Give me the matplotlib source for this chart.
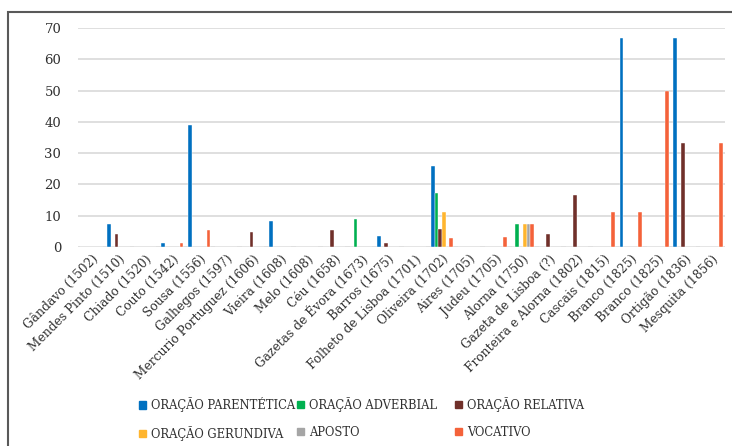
import matplotlib
matplotlib.use("Agg")
import matplotlib.pyplot as plt
import matplotlib.patches as mpatches
import numpy as np

plt.rcParams['font.family'] = ['DejaVu Serif']

categories = [
    "Gândavo (1502)", "Mendes Pinto (1510)", "Chiado (1520)", "Couto (1542)",
    "Sousa (1556)", "Galhegos (1597)", "Mercurio Portuguez (1606)", "Vieira (1608)",
    "Melo (1608)", "Céu (1658)", "Gazetas de Évora (1673)", "Barros (1675)",
    "Folheto de Lisboa (1701)", "Oliveira (1702)", "Aires (1705)", "Judeu (1705)",
    "Alorna (1750)", "Gazeta de Lisboa (?)", "Fronteira e Alorna (1802)",
    "Cascais (1815)", "Branco (1825)", "Branco (1825)", "Ortigão (1836)",
    "Mesquita (1856)",
]

series_names = ["ORAÇÃO PARENTÉTICA", "ORAÇÃO ADVERBIAL", "ORAÇÃO RELATIVA",
                "ORAÇÃO GERUNDIVA", "APOSTO", "VOCATIVO"]

parentetica = [0, 7.5, 0, 1.3, 38.9, 0, 0, 8.3, 0, 0, 0, 3.6,
               0, 25.9, 0, 0, 0, 0, 0, 0, 66.7, 0, 66.7, 0]
adverbial = [0, 0, 0, 0, 0, 0, 0, 0, 0, 0, 9.0, 0,
             0, 17.3, 0, 0, 7.5, 0, 0, 0, 0, 0, 0, 0]
relativa = [0, 4.0, 0, 0, 0, 0, 4.8, 0, 0, 5.5, 0, 1.3,
            0, 5.8, 0, 0, 0, 4.3, 16.7, 0, 0, 0, 33.3, 0]
gerundiva = [0, 0, 0, 0, 0, 0, 0, 0, 0, 0, 0, 0,
             0, 11.3, 0, 0, 7.5, 0, 0, 0, 0, 0, 0, 0]
aposto = [0, 0, 0, 0, 0, 0, 0, 0, 0, 0, 0, 0,
          0, 0, 0, 0, 7.5, 0, 0, 0, 0, 0, 0, 0]
vocativo = [0, 0, 0, 1.3, 5.5, 0, 0, 0, 0, 0, 0, 0,
            0, 2.9, 0, 3.2, 7.5, 0, 0, 11.1, 11.1, 50.0, 0, 33.3]

series = [parentetica, adverbial, relativa, gerundiva, aposto, vocativo]
colors = ["#0070C0", "#00B050", "#70302A", "#FFB52E", "#A5A5A5", "#F4623A"]

fig = plt.figure(figsize=(7.32, 4.46), dpi=100)
W, H = 732, 446
ax = fig.add_axes([78 / W, (H - 247) / H, (725 - 78) / W, (247 - 28) / H])

x = np.arange(len(categories))
bw = 0.137
for j, (vals, col, name) in enumerate(zip(series, colors, series_names)):
    ax.bar(x + (j - 2.5) * bw, vals, width=bw, color=col, label=name,
           edgecolor="white", linewidth=0.3, zorder=3)

ax.set_xlim(-0.5, len(categories) - 0.5)
ax.set_ylim(0, 70)
ax.set_yticks(range(0, 71, 10))
ax.yaxis.grid(True, color="#D9D9D9", linewidth=1.2, zorder=0)
ax.set_axisbelow(True)
for s in ax.spines.values():
    s.set_visible(False)
ax.tick_params(axis="both", length=0, labelsize=9.5, colors="#303030")
ax.tick_params(axis="y", pad=12)
ax.set_xticks(x)
ax.set_xticklabels(categories, rotation=45, ha="right", rotation_mode="anchor",
                   fontsize=8.8)
ax.tick_params(axis="x", pad=4)

# Legend laid out as three equal-width columns of two entries each
handles = [mpatches.Patch(color=c) for c in colors]
columns = [(0, 3), (1, 4), (2, 5)]
col_x = [139, 297, 455]
for cx, (a, b) in zip(col_x, columns):
    leg = fig.legend([handles[a], handles[b]], [series_names[a], series_names[b]],
                     loc="upper left", bbox_to_anchor=(cx / W, 1 - 397 / H),
                     frameon=False, fontsize=8.3, handlelength=0.6,
                     handleheight=0.6, handletextpad=0.45, labelspacing=1.2,
                     borderpad=0, borderaxespad=0, labelcolor="#303030")

frame = mpatches.Rectangle((8 / W, -0.1), 1.0, (H - 12) / H + 0.1,
                           transform=fig.transFigure, fill=False,
                           edgecolor="#595959", linewidth=1.5, clip_on=False)
fig.patches.append(frame)

fig.savefig("out.png", dpi=100)
